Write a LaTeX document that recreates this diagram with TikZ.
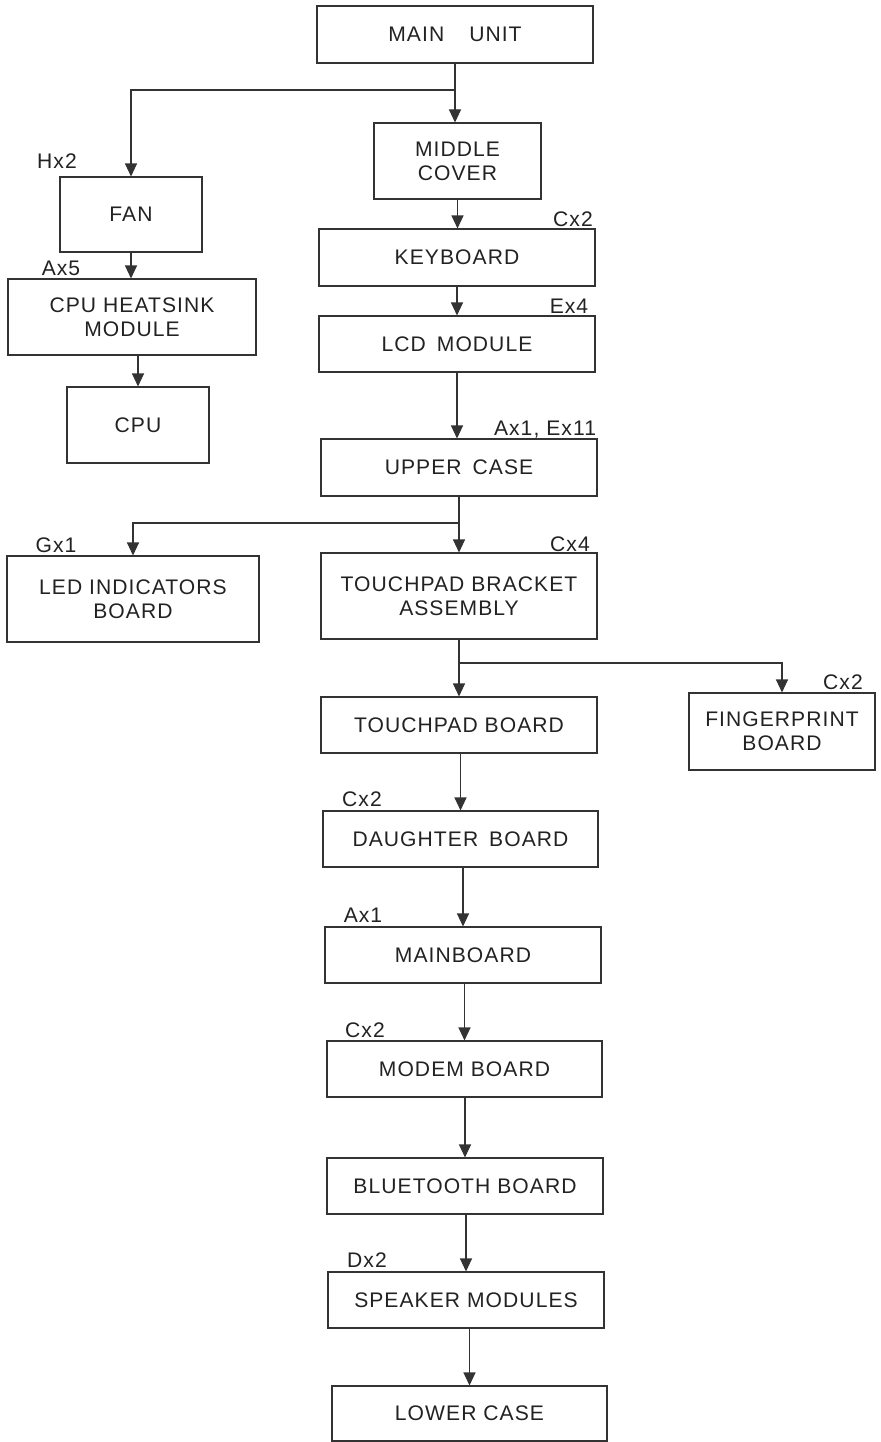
\documentclass[tikz,border=0pt]{standalone}
\usepackage{fontspec}
\usepackage{xcolor}
\usetikzlibrary{arrows.meta}
\newfontfamily\partfont{Liberation Sans}[LetterSpace=5]
\definecolor{inkgray}{HTML}{222222}
\definecolor{linegray}{HTML}{333333}

\tikzset{
  part/.style={draw=linegray, line width=0.6pt, inner sep=0pt, align=center,
               text=inkgray, font=\partfont\fontsize{12}{13.7}\selectfont},
  tag/.style={inner sep=0pt, text depth=0pt, text=inkgray,
              font=\partfont\fontsize{12}{13.7}\selectfont},
  arrow/.style={draw=linegray, line width=0.6pt, -{Triangle[length=2.6mm, width=2.4mm]}},
}

\begin{document}
\begin{tikzpicture}
  \useasboundingbox (0,0) rectangle (17.6,-28.84);

  % right column
  \node[part, minimum width=5.52cm, minimum height=1.14cm] (main) at (9.10, -0.69) {MAIN\hspace{0.5cm}UNIT};
  \node[part, minimum width=3.34cm, minimum height=1.52cm] (middle) at (9.15, -3.22) {MIDDLE\\COVER};
  \node[part, minimum width=5.52cm, minimum height=1.14cm] (keyboard) at (9.14, -5.15) {KEYBOARD};
  \node[part, minimum width=5.52cm, minimum height=1.12cm] (lcd) at (9.14, -6.88) {LCD\hspace{0.22cm}MODULE};
  \node[part, minimum width=5.52cm, minimum height=1.14cm] (upper) at (9.18, -9.35) {UPPER\hspace{0.22cm}CASE};
  \node[part, minimum width=5.52cm, minimum height=1.72cm] (bracket) at (9.18, -11.92) {TOUCHPAD BRACKET\\ASSEMBLY};
  \node[part, minimum width=5.52cm, minimum height=1.12cm] (touchpad) at (9.18, -14.50) {TOUCHPAD BOARD};
  \node[part, minimum width=3.72cm, minimum height=1.54cm] (finger) at (15.64, -14.63) {FINGERPRINT\\BOARD};
  \node[part, minimum width=5.50cm, minimum height=1.12cm] (daughter) at (9.21, -16.78) {DAUGHTER\hspace{0.22cm}BOARD};
  \node[part, minimum width=5.52cm, minimum height=1.12cm] (mainboard) at (9.26, -19.10) {MAINBOARD};
  \node[part, minimum width=5.50cm, minimum height=1.12cm] (modem) at (9.29, -21.38) {MODEM BOARD};
  \node[part, minimum width=5.52cm, minimum height=1.12cm] (bluetooth) at (9.30, -23.72) {BLUETOOTH BOARD};
  \node[part, minimum width=5.52cm, minimum height=1.12cm] (speaker) at (9.32, -26.00) {SPEAKER MODULES};
  \node[part, minimum width=5.50cm, minimum height=1.10cm] (lower) at (9.39, -28.27) {LOWER CASE};

  % left column
  \node[part, minimum width=2.84cm, minimum height=1.50cm] (fan) at (2.62, -4.29) {FAN};
  \node[part, minimum width=4.96cm, minimum height=1.52cm] (heatsink) at (2.64, -6.34) {CPU HEATSINK\\MODULE};
  \node[part, minimum width=2.84cm, minimum height=1.52cm] (cpu) at (2.76, -8.50) {CPU};
  \node[part, minimum width=5.04cm, minimum height=1.72cm] (led) at (2.66, -11.98) {LED INDICATORS\\BOARD};

  % screw counts
  \node[tag] (hx2) at (1.14, -3.22) {Hx2};
  \node[tag] (ax5) at (1.22, -5.36) {Ax5};
  \node[tag] (cx2kb) at (11.46, -4.38) {Cx2};
  \node[tag] (ex4) at (11.38, -6.12) {Ex4};
  \node[tag] (axex) at (10.90, -8.56) {Ax1, Ex11};
  \node[tag] (gx1) at (1.12, -10.90) {Gx1};
  \node[tag] (cx4) at (11.40, -10.88) {Cx4};
  \node[tag] (cx2fp) at (16.86, -13.64) {Cx2};
  \node[tag] (cx2db) at (7.24, -15.98) {Cx2};
  \node[tag] (ax1) at (7.26, -18.30) {Ax1};
  \node[tag] (cx2md) at (7.30, -20.60) {Cx2};
  \node[tag] (dx2) at (7.34, -25.20) {Dx2};

  % junctions
  \coordinate (j1) at (9.10, -1.80);
  \coordinate (j2) at (9.18, -10.46);
  \coordinate (j3) at (9.18, -13.26);

  % connectors
  \draw[arrow] (main) -- (main |- middle.north);
  \draw[arrow] (j1) -| (fan);
  \draw[arrow] (fan) -- (fan |- heatsink.north);
  \draw[arrow] (heatsink.south -| cpu) -- (cpu);
  \draw[arrow] (middle) -- (middle |- keyboard.north);
  \draw[arrow] (keyboard) -- (keyboard |- lcd.north);
  \draw[arrow] (lcd) -- (lcd |- upper.north);
  \draw[arrow] (upper) -- (upper |- bracket.north);
  \draw[arrow] (j2) -| (led);
  \draw[arrow] (bracket) -- (bracket |- touchpad.north);
  \draw[arrow] (j3) -| (finger);
  \draw[arrow] (touchpad.south -| daughter) -- (daughter);
  \draw[arrow] (daughter.south -| mainboard) -- (mainboard);
  \draw[arrow] (mainboard.south -| modem) -- (modem);
  \draw[arrow] (modem.south -| bluetooth) -- (bluetooth);
  \draw[arrow] (bluetooth.south -| speaker) -- (speaker);
  \draw[arrow] (speaker.south -| lower) -- (lower);
\end{tikzpicture}
\end{document}
